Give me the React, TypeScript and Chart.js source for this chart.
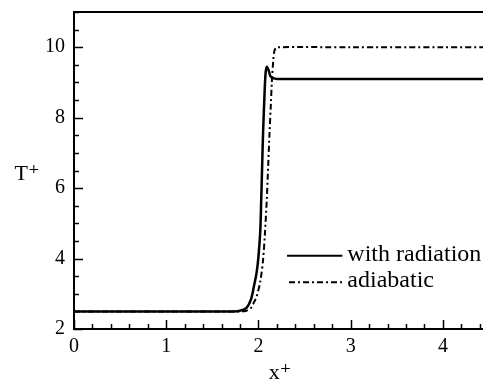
import React, { useEffect, useRef } from "react";
import { Chart, registerables } from "chart.js";

Chart.register(...registerables);

const radX = [0, 0.5, 1.0, 1.5, 1.73, 1.8, 1.87, 1.92, 1.95, 1.98, 2.0, 2.02, 2.03, 2.04, 2.05, 2.065, 2.077, 2.09, 2.11, 2.13, 2.16, 2.2, 3.0, 4.0, 4.5];
const radT = [2.5, 2.5, 2.5, 2.5, 2.5, 2.52, 2.6, 2.85, 3.2, 3.6, 4.05, 4.8, 5.66, 6.6, 7.56, 8.6, 9.25, 9.44, 9.35, 9.18, 9.12, 9.1, 9.1, 9.1, 9.1];
const adiX = [0, 0.5, 1.0, 1.5, 1.8, 1.87, 1.92, 1.95, 1.98, 2.02, 2.05, 2.07, 2.09, 2.105, 2.12, 2.135, 2.145, 2.16, 2.17, 2.185, 2.2, 3.0, 4.0, 4.5];
const adiT = [2.5, 2.5, 2.5, 2.5, 2.5, 2.52, 2.6, 2.75, 2.92, 3.35, 3.96, 4.7, 5.66, 6.6, 7.56, 8.4, 9.0, 9.6, 9.86, 9.97, 10.0, 10.0, 10.0, 10.0];

const xTickLabels = [0, 1, 2, 3, 4];
const yTickLabels = [2, 4, 6, 8, 10];
const seriesLabels = ["with radiation", "adiabatic"];
const xTitle = "x\u207A";
const yTitle = "T\u207A";

const FONT = "'Liberation Serif', 'DejaVu Serif', serif";

const decor = {
  id: "decor",
  afterDraw(chart: any) {
    const { ctx, chartArea: a, scales } = chart;
    const xs = scales.x;
    const ys = scales.y;
    ctx.save();
    ctx.strokeStyle = "#000";
    ctx.lineWidth = 2;
    ctx.strokeRect(a.left, a.top, a.right - a.left, a.bottom - a.top);
    ctx.lineWidth = 1.5;
    for (let i = 0; i <= 45; i += 2) {
      const v = i / 10;
      const px = Math.round(xs.getPixelForValue(v)) + 0.5;
      const len = i % 10 === 0 ? 9 : 5;
      ctx.beginPath();
      ctx.moveTo(px, a.bottom);
      ctx.lineTo(px, a.bottom - len);
      ctx.stroke();
    }
    for (let i = 4; i <= 22; i++) {
      const v = i / 2;
      const py = Math.round(ys.getPixelForValue(v)) + 0.5;
      const len = i % 4 === 0 ? 9 : 5;
      ctx.beginPath();
      ctx.moveTo(a.left, py);
      ctx.lineTo(a.left + len, py);
      ctx.stroke();
    }
    ctx.fillStyle = "#000";
    ctx.font = `24px ${FONT}`;
    ctx.textBaseline = "middle";
    ctx.textAlign = "left";
    const lx0 = xs.getPixelForValue(2.31);
    const lx1 = xs.getPixelForValue(2.91);
    const rows = [ys.getPixelForValue(4.08), ys.getPixelForValue(3.33)];
    ctx.lineWidth = 2;
    ctx.beginPath();
    ctx.setLineDash([]);
    ctx.moveTo(lx0, rows[0]);
    ctx.lineTo(lx1, rows[0]);
    ctx.stroke();
    ctx.beginPath();
    ctx.setLineDash([6, 3, 2, 3]);
    ctx.moveTo(lx0 + 2, rows[1]);
    ctx.lineTo(lx1, rows[1]);
    ctx.stroke();
    ctx.setLineDash([]);
    ctx.fillText(seriesLabels[0], lx1 + 5, rows[0] - 1);
    ctx.fillText(seriesLabels[1], lx1 + 5, rows[1] - 1);
    ctx.font = `22px ${FONT}`;
    ctx.textAlign = "center";
    ctx.fillText(yTitle, 27, ys.getPixelForValue(6.4));
    ctx.fillText(xTitle, 280, 373);
    ctx.restore();
  },
};

export default function App() {
  const ref = useRef<HTMLCanvasElement>(null);
  useEffect(() => {
    const canvas = ref.current!;
    const chart = new Chart(canvas, {
      type: "line",
      data: {
        datasets: [
          {
            label: seriesLabels[0],
            data: radX.map((x, i) => ({ x, y: radT[i] })),
            borderColor: "#000",
            borderWidth: 2.5,
            pointRadius: 0,
            tension: 0.3,
          },
          {
            label: seriesLabels[1],
            data: adiX.map((x, i) => ({ x, y: adiT[i] })),
            borderColor: "#000",
            borderWidth: 2,
            borderDash: [6, 3, 2, 3],
            pointRadius: 0,
            tension: 0.3,
          },
        ],
      },
      options: {
        responsive: false,
        animation: false,
        layout: { padding: { top: 12, right: 11, left: 0, bottom: 0 } },
        plugins: { legend: { display: false }, tooltip: { enabled: false } },
        scales: {
          x: {
            type: "linear",
            min: 0,
            max: 4.5,
            afterFit: (s: any) => { s.height = 52; s.paddingLeft = 0; s.paddingRight = 0; },
            afterBuildTicks: (s: any) => { s.ticks = xTickLabels.map((v) => ({ value: v })); },
            grid: { display: false, drawTicks: false },
            border: { display: false },
            ticks: {
              autoSkip: false,
              maxRotation: 0,
              padding: 6,
              color: "#000",
              font: { family: FONT, size: 20 },
              callback: (v: any) => String(v),
            },
          },
          y: {
            type: "linear",
            min: 2,
            max: 11,
            afterFit: (s: any) => { s.width = 74; s.paddingTop = 0; s.paddingBottom = 0; },
            afterBuildTicks: (s: any) => { s.ticks = yTickLabels.map((v) => ({ value: v })); },
            grid: { display: false, drawTicks: false },
            border: { display: false },
            ticks: {
              autoSkip: false,
              padding: 9,
              color: "#000",
              font: { family: FONT, size: 20 },
              callback: (v: any) => String(v),
            },
          },
        },
      },
      plugins: [decor],
    });
    return () => chart.destroy();
  }, []);
  return (
    <div style={{ position: "fixed", left: 0, top: 0, width: 500, height: 381, background: "#fff" }}>
      <canvas ref={ref} width={500} height={381} style={{ display: "block" }} />
    </div>
  );
}
